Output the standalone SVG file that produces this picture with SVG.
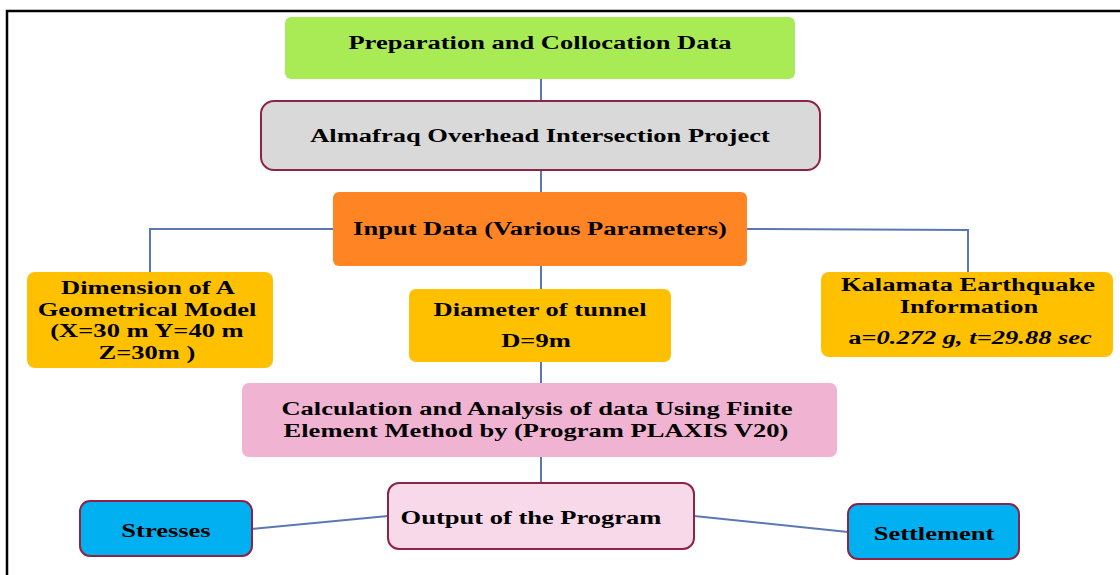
<svg xmlns="http://www.w3.org/2000/svg" width="1120" height="575" viewBox="0 0 1120 575">
<style>
text{font-family:"Liberation Serif","Times New Roman",serif;font-weight:bold;font-size:19.5px;fill:#000;text-anchor:middle}
.c{stroke:#5B78B4;stroke-width:2;fill:none}
.b{stroke:#8E2445;stroke-width:2}
</style>
<rect x="7" y="11" width="1120" height="580" fill="#fff" stroke="#000" stroke-width="2.5"/>
<g id="connectors">
<line class="c" x1="541" y1="79" x2="541" y2="101"/>
<line class="c" x1="541" y1="170" x2="541" y2="192"/>
<line class="c" x1="541" y1="266" x2="541" y2="289"/>
<line class="c" x1="541" y1="362" x2="541" y2="383"/>
<line class="c" x1="541" y1="457" x2="541" y2="483"/>
<polyline class="c" points="333,229 150,229 150,272"/>
<polyline class="c" points="747,229 968,230 968,272"/>
<line class="c" x1="252" y1="529" x2="388" y2="516"/>
<line class="c" x1="694" y1="516" x2="848" y2="532"/>
</g>
<g id="prep"><rect x="285" y="17" width="510" height="62" rx="6" fill="#A9EB55"/><text transform="translate(540,49) scale(1.36,1)">Preparation and Collocation Data</text></g>
<g id="project"><rect class="b" x="261" y="101" width="559" height="69" rx="13" fill="#D9D9D9"/><text transform="translate(540,142) scale(1.36,1)">Almafraq Overhead Intersection Project</text></g>
<g id="input"><rect x="333" y="192" width="414" height="74" rx="6" fill="#FF8424"/><text transform="translate(540,235) scale(1.36,1)">Input Data (Various Parameters)</text></g>
<g id="dimension"><rect x="27" y="272" width="246" height="96" rx="8" fill="#FFC000"/><text transform="translate(148,294) scale(1.36,1)">Dimension of A</text><text transform="translate(147,316) scale(1.36,1)">Geometrical Model</text><text transform="translate(147,337) scale(1.36,1)">(X=30 m Y=40 m</text><text transform="translate(147,359) scale(1.36,1)">Z=30m )</text></g>
<g id="diameter"><rect x="409" y="289" width="262" height="73" rx="7" fill="#FFC000"/><text transform="translate(540,316) scale(1.36,1)">Diameter of tunnel</text><text transform="translate(536,347) scale(1.36,1)">D=9m</text></g>
<g id="kalamata"><rect x="821" y="272" width="292" height="85" rx="8" fill="#FFC000"/><text transform="translate(968,291) scale(1.36,1)">Kalamata Earthquake</text><text transform="translate(969,313) scale(1.36,1)">Information</text><text transform="translate(970,344) scale(1.36,1)">a=<tspan font-style="italic">0.272 g, t=29.88 sec</tspan></text></g>
<g id="calc"><rect x="242" y="383" width="595" height="74" rx="7" fill="#F0B3D1"/><text transform="translate(537,415) scale(1.36,1)">Calculation and Analysis of data Using Finite</text><text transform="translate(536,437) scale(1.36,1)">Element Method by (Program PLAXIS V20)</text></g>
<g id="output"><rect class="b" x="388" y="483" width="306" height="66" rx="11" fill="#F8D9E9"/><text transform="translate(531,524) scale(1.36,1)">Output of the Program</text></g>
<g id="stresses"><rect class="b" x="80" y="501" width="172" height="55" rx="10" fill="#00B0F0"/><text transform="translate(166,537) scale(1.36,1)">Stresses</text></g>
<g id="settlement"><rect class="b" x="848" y="504" width="171" height="55" rx="10" fill="#00B0F0"/><text transform="translate(934,540) scale(1.36,1)">Settlement</text></g>
</svg>
